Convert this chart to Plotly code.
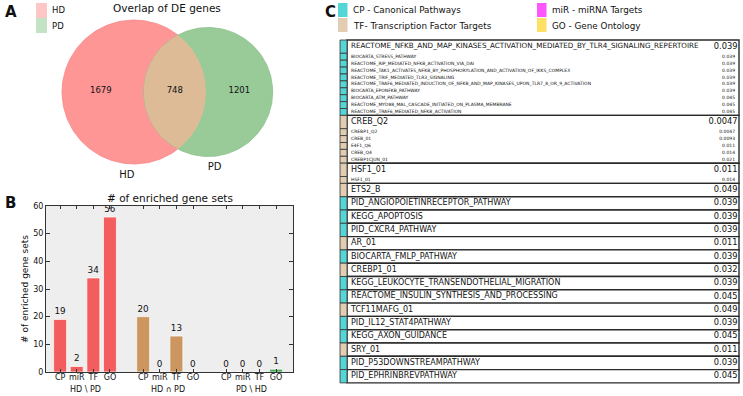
import math
import plotly.graph_objects as go

# ---------------- Data ----------------
venn_labels = ["HD", "PD"]
venn_only_hd = 1679
venn_both = 748
venn_only_pd = 1201

bar_group_labels = ["HD \\ PD", "HD ∩ PD", "PD \\ HD"]
gene_set_types = ["CP", "miR", "TF", "GO"]
counts_hd_only = [19, 2, 34, 56]
counts_both = [20, 0, 13, 0]
counts_pd_only = [0, 0, 0, 1]

legend_codes = ["CP", "TF", "miR", "GO"]
legend_texts = ["CP - Canonical Pathways", "TF- Transcription Factor Targets",
                "miR - miRNA Targets", "GO - Gene Ontology"]

group_headers = [
    "REACTOME_NFKB_AND_MAP_KINASES_ACTIVATION_MEDIATED_BY_TLR4_SIGNALING_REPERTOIRE",
    "CREB_Q2", "HSF1_01", "ETS2_B", "PID_ANGIOPOIETINRECEPTOR_PATHWAY", "KEGG_APOPTOSIS",
    "PID_CXCR4_PATHWAY", "AR_01", "BIOCARTA_FMLP_PATHWAY", "CREBP1_01",
    "KEGG_LEUKOCYTE_TRANSENDOTHELIAL_MIGRATION", "REACTOME_INSULIN_SYNTHESIS_AND_PROCESSING",
    "TCF11MAFG_01", "PID_IL12_STAT4PATHWAY", "KEGG_AXON_GUIDANCE", "SRY_01",
    "PID_P53DOWNSTREAMPATHWAY", "PID_EPHRINBREVPATHWAY",
]
group_types = ["CP", "TF", "TF", "TF", "CP", "CP", "CP", "TF", "CP", "TF",
               "CP", "CP", "TF", "CP", "CP", "TF", "CP", "CP"]
group_values = [0.039, 0.0047, 0.011, 0.049, 0.039, 0.039, 0.039, 0.011, 0.039, 0.032,
                0.039, 0.045, 0.049, 0.039, 0.045, 0.011, 0.039, 0.045]
group_sub_names = [
    ["BIOCARTA_STRESS_PATHWAY", "REACTOME_RIP_MEDIATED_NFKB_ACTIVATION_VIA_DAI",
     "REACTOME_TAK1_ACTIVATES_NFKB_BY_PHOSPHORYLATION_AND_ACTIVATION_OF_IKKS_COMPLEX",
     "REACTOME_TRIF_MEDIATED_TLR3_SIGNALING",
     "REACTOME_TRAF6_MEDIATED_INDUCTION_OF_NFKB_AND_MAP_KINASES_UPON_TLR7_8_OR_9_ACTIVATION",
     "BIOCARTA_EPONFKB_PATHWAY", "BIOCARTA_ATM_PATHWAY",
     "REACTOME_MYD88_MAL_CASCADE_INITIATED_ON_PLASMA_MEMBRANE",
     "REACTOME_TRAF6_MEDIATED_NFKB_ACTIVATION"],
    ["CREBP1_Q2", "CREB_01", "E4F1_Q6", "CREB_Q4", "CREBP1CJUN_01"],
    ["HSF1_01"],
] + [[] for _ in range(15)]
group_sub_values = [
    [0.039, 0.039, 0.039, 0.039, 0.039, 0.039, 0.045, 0.045, 0.045],
    [0.0047, 0.0093, 0.011, 0.014, 0.021],
    [0.014],
] + [[] for _ in range(15)]

# ---------------- Style ----------------
FONT = "DejaVu Sans"
W, H = 743, 396
type_colors = {"CP": "#55d5d5", "TF": "#e2cdb2", "miR": "#ff55ff", "GO": "#ffe066"}
bar_colors = ["#f45d5d", "#cc9660", "#44aa55"]


def px_x(p):
    return p / W


def px_y(p):
    return 1 - p / H


fig = go.Figure()
annotations = []
shapes = []

# ---------------- Panel A : Venn ----------------
hd_total = venn_only_hd + venn_both
pd_total = venn_only_pd + venn_both
K = 72 / math.sqrt(hd_total)
r1 = K * math.sqrt(hd_total)
r2 = K * math.sqrt(pd_total)
target = math.pi * K * K * venn_both


def lens_area(d):
    a1 = r1 * r1 * math.acos((d * d + r1 * r1 - r2 * r2) / (2 * d * r1))
    a2 = r2 * r2 * math.acos((d * d + r2 * r2 - r1 * r1) / (2 * d * r2))
    a3 = 0.5 * math.sqrt((-d + r1 + r2) * (d + r1 - r2) * (d - r1 + r2) * (d + r1 + r2))
    return a1 + a2 - a3


lo, hi = abs(r1 - r2) + 1e-6, r1 + r2 - 1e-6
for _ in range(80):
    mid = (lo + hi) / 2
    if lens_area(mid) > target:
        lo = mid
    else:
        hi = mid
d = (lo + hi) / 2
cx1, cy = 134.0, 92.0
cx2 = cx1 + d


def circle_pts(cx, r, t0, t1, n=160):
    xs, ys = [], []
    for i in range(n + 1):
        t = t0 + (t1 - t0) * i / n
        xs.append(cx + r * math.cos(t))
        ys.append(cy + r * math.sin(t))
    return xs, ys


for cx, r, col, edge in [(cx1, r1, "#ff9696", "#f48a8a"), (cx2, r2, "#99cb99", "#8cc08c")]:
    xs, ys = circle_pts(cx, r, 0, 2 * math.pi, 240)
    fig.add_trace(go.Scatter(x=xs, y=ys, mode="lines", fill="toself", fillcolor=col,
                             line=dict(width=0.8, color=edge), hoverinfo="skip",
                             showlegend=False, xaxis="x", yaxis="y"))

a = (d * d + r1 * r1 - r2 * r2) / (2 * d)
th1 = math.acos(a / r1)
hh = math.sqrt(r1 * r1 - a * a)
phi = math.atan2(hh, a - d)
lx1, ly1 = circle_pts(cx1, r1, -th1, th1)
lx2, ly2 = circle_pts(cx2, r2, phi, 2 * math.pi - phi)
fig.add_trace(go.Scatter(x=lx1 + lx2, y=ly1 + ly2, mode="lines", fill="toself",
                         fillcolor="#debb97", line=dict(width=0, color="#debb97"),
                         hoverinfo="skip", showlegend=False, xaxis="x", yaxis="y"))

num_x = [((cx1 - r1) + (cx2 - r2)) / 2 - 2, ((cx2 - r2) + (cx1 + r1)) / 2,
         ((cx1 + r1) + (cx2 + r2)) / 2]
fig.add_trace(go.Scatter(x=num_x, y=[cy - 1] * 3, mode="text",
                         text=[str(venn_only_hd), str(venn_both), str(venn_only_pd)],
                         textfont=dict(family=FONT, size=8.5, color="#111"),
                         hoverinfo="skip", showlegend=False, xaxis="x", yaxis="y"))
fig.add_trace(go.Scatter(x=[cx1 - 0.1 * r1, cx2 + 0.1 * r2], y=[cy + r1 + 11, cy + r2 + 11],
                         mode="text", text=venn_labels,
                         textfont=dict(family=FONT, size=10, color="#111"),
                         hoverinfo="skip", showlegend=False, xaxis="x", yaxis="y"))

# Venn legend
for i, (lab, col) in enumerate(zip(venn_labels, ["#ffc6c6", "#c4e3c4"])):
    shapes.append(dict(type="rect", xref="paper", yref="paper",
                       x0=px_x(36), x1=px_x(47), y0=px_y(3 + 15 * i), y1=px_y(18 + 15 * i),
                       fillcolor=col, line=dict(width=0)))
    annotations.append(dict(text=lab, xref="paper", yref="paper", x=px_x(50),
                            y=px_y(10.5 + 15 * i), xanchor="left", yanchor="middle",
                            showarrow=False, font=dict(family=FONT, size=8.5, color="#111")))
annotations.append(dict(text="Overlap of DE genes", xref="paper", yref="paper", x=px_x(167),
                        y=px_y(8), xanchor="center", yanchor="middle", showarrow=False,
                        font=dict(family=FONT, size=10.5, color="#111")))

# ---------------- Panel B : bars ----------------
all_counts = [counts_hd_only, counts_both, counts_pd_only]
bx, by, bc, btick = [], [], [], []
for gi, counts in enumerate(all_counts):
    for ti, v in enumerate(counts):
        bx.append(gi * 5 + ti)
        by.append(v)
        bc.append(bar_colors[gi])
        btick.append(gene_set_types[ti])
fig.add_trace(go.Bar(x=bx, y=by, width=0.78,
                     marker=dict(color=bc, line=dict(color="rgba(255,255,255,0.7)", width=1)),
                     text=[str(v) for v in by], textposition="outside", constraintext="none",
                     textfont=dict(family=FONT, size=8.8, color="#111"), cliponaxis=False,
                     hoverinfo="skip", showlegend=False, xaxis="x2", yaxis="y2"))
for gi, lab in enumerate(bar_group_labels):
    annotations.append(dict(text=lab, xref="x2", yref="paper", x=gi * 5 + 1.5, y=px_y(389.5),
                            xanchor="center", yanchor="middle", showarrow=False,
                            font=dict(family=FONT, size=8, color="#111")))
annotations.append(dict(text="# of enriched gene sets", xref="paper", yref="paper", x=px_x(170),
                        y=px_y(198), xanchor="center", yanchor="middle", showarrow=False,
                        font=dict(family=FONT, size=10.5, color="#111")))
annotations.append(dict(text="# of enriched gene sets", xref="paper", yref="paper", x=px_x(25),
                        y=px_y(289), xanchor="center", yanchor="middle", showarrow=False,
                        textangle=-90, font=dict(family=FONT, size=9, color="#111")))

# ---------------- Panel C : table ----------------
ROW_H, SUB_H, STRIP_W, BOX_W = 13.3, 6.9, 7.0, 392.0
HDR_FS, VAL_FS, SUB_FS = 8.0, 8.3, 4.5
cell_y, cell_h, cell_c = [], [], []
box_y, box_h = [], []
name_x, name_y, name_t, name_s = [], [], [], []
val_x, val_y, val_t, val_s = [], [], [], []
y = 0.0
for hdr, typ, val, subs, svals in zip(group_headers, group_types, group_values,
                                       group_sub_names, group_sub_values):
    top = y
    cell_y.append(y + ROW_H / 2)
    cell_h.append(ROW_H)
    cell_c.append(type_colors[typ])
    fs = min(HDR_FS, 8.5 * 340 / (len(hdr) * 5.16))
    name_x.append(STRIP_W + 4)
    name_y.append(y + ROW_H / 2)
    name_t.append(hdr)
    name_s.append(fs)
    val_x.append(STRIP_W + BOX_W - 1.5)
    val_y.append(y + ROW_H / 2)
    val_t.append(f"{val:g}")
    val_s.append(VAL_FS)
    y += ROW_H
    for sn, sv in zip(subs, svals):
        cell_y.append(y + SUB_H / 2)
        cell_h.append(SUB_H)
        cell_c.append(type_colors[typ])
        name_x.append(STRIP_W + 4)
        name_y.append(y + SUB_H / 2)
        name_t.append(sn)
        name_s.append(SUB_FS)
        val_x.append(STRIP_W + BOX_W - 4)
        val_y.append(y + SUB_H / 2)
        val_t.append(f"{sv:g}")
        val_s.append(SUB_FS)
        y += SUB_H
    box_y.append((top + y) / 2)
    box_h.append(y - top)
total_h = y

fig.add_trace(go.Bar(y=box_y, x=[BOX_W] * len(box_y), base=STRIP_W, width=box_h, orientation="h",
                     marker=dict(color="white", line=dict(color="#2a2a2a", width=1.4)),
                     hoverinfo="skip", showlegend=False, xaxis="x3", yaxis="y3"))
fig.add_trace(go.Bar(y=cell_y, x=[STRIP_W] * len(cell_y), base=0, width=cell_h, orientation="h",
                     marker=dict(color=cell_c, line=dict(color="#333333", width=0.8)),
                     hoverinfo="skip", showlegend=False, xaxis="x3", yaxis="y3"))
fig.add_trace(go.Scatter(x=name_x, y=name_y, text=name_t, mode="text", textposition="middle right",
                         textfont=dict(family=FONT, size=name_s, color="#111"), cliponaxis=False,
                         hoverinfo="skip", showlegend=False, xaxis="x3", yaxis="y3"))
fig.add_trace(go.Scatter(x=val_x, y=val_y, text=val_t, mode="text", textposition="middle left",
                         textfont=dict(family=FONT, size=val_s, color="#111"), cliponaxis=False,
                         hoverinfo="skip", showlegend=False, xaxis="x3", yaxis="y3"))

# table legend
leg_pos = [(338, 3), (338, 18), (537, 3), (537, 18)]
for code, txt, (lx, ly) in zip(legend_codes, legend_texts, leg_pos):
    shapes.append(dict(type="rect", xref="paper", yref="paper", x0=px_x(lx), x1=px_x(lx + 9.5),
                       y0=px_y(ly), y1=px_y(ly + 14), fillcolor=type_colors[code], line=dict(width=0)))
    annotations.append(dict(text=txt, xref="paper", yref="paper", x=px_x(lx + 13), y=px_y(ly + 7.5),
                            xanchor="left", yanchor="middle", showarrow=False,
                            font=dict(family=FONT, size=8.8, color="#111")))

# panel letters
for letter, (lx, ly) in zip(["A", "B", "C"], [(11, 12), (10, 203), (330, 12)]):
    annotations.append(dict(text=f"<b>{letter}</b>", xref="paper", yref="paper", x=px_x(lx),
                            y=px_y(ly), xanchor="center", yanchor="middle", showarrow=False,
                            font=dict(family=FONT, size=15, color="#111")))

fig.update_layout(
    template="none",
    width=W, height=H, margin=dict(l=0, r=0, t=0, b=0, autoexpand=False),
    paper_bgcolor="white", plot_bgcolor="white", barmode="overlay", showlegend=False,
    font=dict(family=FONT, color="#111"),
    xaxis=dict(domain=[0, px_x(330)], range=[0, 330], visible=False, fixedrange=True,
               anchor="y", automargin=False),
    yaxis=dict(domain=[px_y(195), 1], range=[195, 0], visible=False, fixedrange=True,
               anchor="x", automargin=False),
    xaxis2=dict(domain=[px_x(46), px_x(293)], range=[-0.85, 14.02], tickvals=bx, ticktext=btick,
                anchor="y2", automargin=False, ticklabelstandoff=-3,
                ticks="inside", ticklen=3, tickcolor="#333", showline=True, linecolor="#333",
                mirror="ticks", showgrid=False, zeroline=False,
                tickfont=dict(family=FONT, size=8, color="#111")),
    yaxis2=dict(domain=[px_y(372), px_y(206)], range=[0, 60], dtick=10, ticks="inside", ticklen=4,
                anchor="x2", automargin=False,
                tickcolor="#333", showline=True, linecolor="#333", mirror="ticks", showgrid=False,
                zeroline=False, tickfont=dict(family=FONT, size=8, color="#111")),
    xaxis3=dict(domain=[px_x(338), px_x(742)], range=[-2, 402], visible=False,
                anchor="y3", automargin=False),
    yaxis3=dict(domain=[px_y(386), px_y(38)], range=[346, -2], visible=False,
                anchor="x3", automargin=False),
    annotations=annotations, shapes=shapes,
)
fig.add_shape(type="rect", xref="x2 domain", yref="y2 domain", x0=0, x1=1, y0=0, y1=1,
              fillcolor="#eeeeee", line=dict(width=0), layer="below")

fig.write_html("out.html", config={"displayModeBar": False},
               post_script="document.body.style.margin='0';document.body.style.padding='0';"
                           "document.body.style.overflow='hidden';")
